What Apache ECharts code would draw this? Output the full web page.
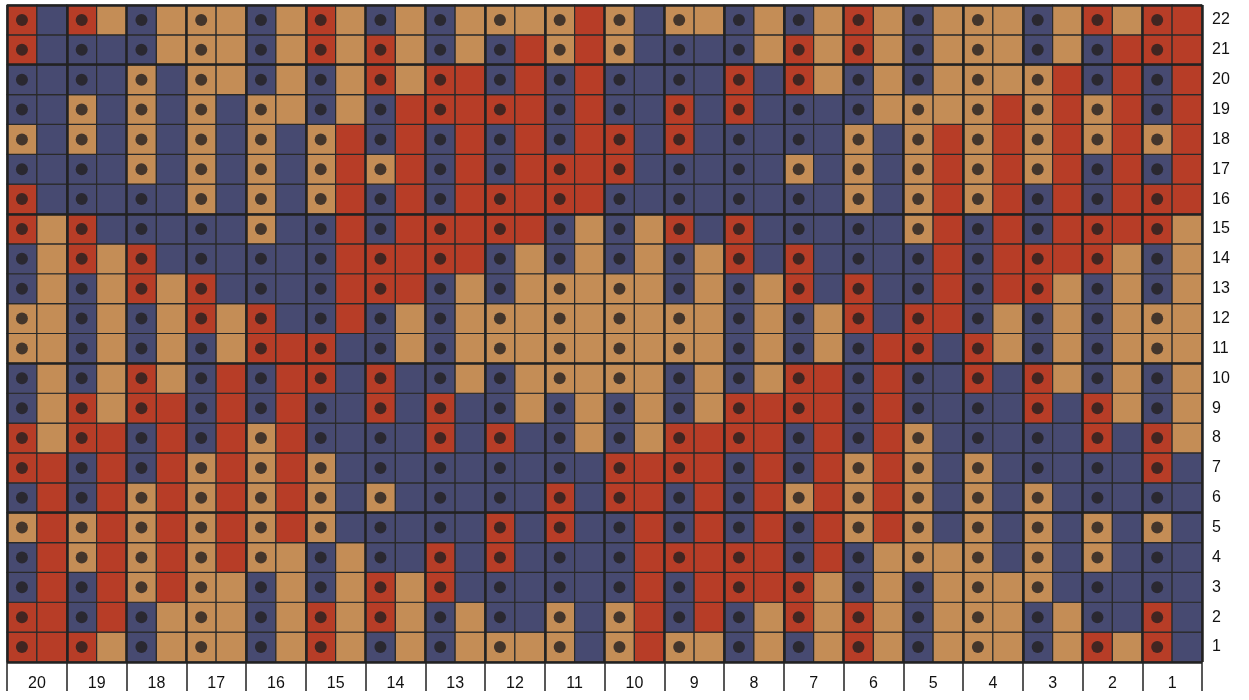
<!DOCTYPE html>
<html>
<head>
<meta charset="utf-8">
<script src="https://cdn.jsdelivr.net/npm/echarts@6/dist/echarts.min.js"></script>
<style>html,body{margin:0;padding:0;background:#fff}#c{width:1249px;height:700px}</style>
</head>
<body>
<div id="c"></div>
<script>
// Column labels (left to right) and row labels (bottom to top)
const columnLabels = ['20','19','18','17','16','15','14','13','12','11','10','9','8','7','6','5','4','3','2','1'];
const rowLabels = ['1','2','3','4','5','6','7','8','9','10','11','12','13','14','15','16','17','18','19','20','21','22'];

// Each entry: [dotted cell colour, plain cell colour] for columns 20 -> 1 (B blue, O orange, R red)
const row22 = ['RB','RO','BO','OO','BO','RO','BO','BO','OO','OR','OB','OO','BO','BO','RO','BO','OO','BO','RO','RR'];
const row21 = ['RB','BB','BO','OO','BO','RO','RO','BO','BR','OR','OB','BB','BO','RO','RO','BO','OO','BO','BR','RR'];
const row20 = ['BB','BB','OB','OO','BO','BO','RO','RR','BR','BR','BB','BB','RB','RO','BO','BO','OO','OR','BR','BR'];
const row19 = ['BB','OB','OB','OB','OO','BO','BR','RR','RR','BR','BB','RB','RB','BB','BO','OO','OR','OR','OR','BR'];
const row18 = ['OB','OB','OB','OB','OB','OR','BR','BR','BR','BR','RB','RB','BB','BB','OB','OR','OR','OR','OR','OR'];
const row17 = ['BB','BB','OB','OB','OB','OR','OR','BR','BR','RR','RB','BB','BB','OB','OB','OR','OR','OR','BR','BR'];
const row16 = ['RB','BB','BB','OB','OB','OR','BR','BR','RR','RR','BB','BB','BB','BB','OB','OR','OR','BR','BR','RR'];
const row15 = ['RO','RB','BB','BB','OB','BR','BR','RR','RR','BO','BO','RB','RB','BB','BB','OR','BR','BR','RR','RO'];
const row14 = ['BO','RO','RB','BB','BB','BR','RR','RR','BO','BO','BO','BO','RB','RB','BB','BR','BR','RR','RO','BO'];
const row13 = ['BO','BO','RO','RB','BB','BR','RR','BO','BO','OO','OO','BO','BO','RB','RB','BR','BR','RO','BO','BO'];
const row12 = ['OO','BO','BO','RO','RB','BR','BO','BO','OO','OO','OO','OO','BO','BO','RB','RR','BO','BO','BO','OO'];
const row11 = ['OO','BO','BO','BO','RR','RB','BO','BO','OO','OO','OO','OO','BO','BO','BR','RB','RO','BO','BO','OO'];
const row10 = ['BO','BO','RO','BR','BR','RB','RB','BO','BO','OO','OO','BO','BO','RR','BR','BB','RB','RO','BO','BO'];
const row9  = ['BO','RO','RR','BR','BR','BB','RB','RB','BO','BO','BO','BO','RR','RR','BR','BB','BB','RB','RO','BO'];
const row8  = ['RO','RR','BR','BR','OR','BB','BB','RB','RB','BO','BO','RR','RR','BR','BR','OB','BB','BB','RB','RO'];
const row7  = ['RR','BR','BR','OR','OR','OB','BB','BB','BB','BB','RR','RR','BR','BR','OR','OB','OB','BB','BB','RB'];
const row6  = ['BR','BR','OR','OR','OR','OB','OB','BB','BB','RB','RR','BR','BR','OR','OR','OB','OB','OB','BB','BB'];
const row5  = ['OR','OR','OR','OR','OR','OB','BB','BB','RB','RB','BR','BR','BR','BR','OR','OB','OB','OB','OB','OB'];
const row4  = ['BR','OR','OR','OR','OO','BO','BB','RB','RB','BB','BR','RR','RR','BR','BO','OO','OB','OB','OB','BB'];
const row3  = ['BR','BR','OR','OO','BO','BO','RO','RB','BB','BB','BR','BR','RR','RO','BO','BO','OO','OB','BB','BB'];
const row2  = ['RR','BR','BO','OO','BO','RO','RO','BO','BB','OB','OR','BR','BO','RO','RO','BO','OO','BO','BB','RB'];
const row1  = ['RR','RO','BO','OO','BO','RO','BO','BO','OO','OB','OR','OO','BO','BO','RO','BO','OO','BO','RO','RB'];

const rows = [row1,row2,row3,row4,row5,row6,row7,row8,row9,row10,row11,row12,row13,row14,row15,row16,row17,row18,row19,row20,row21,row22];
const palette = {B:'#474a71', O:'#c48d56', R:'#b73d27'};

const cells = [];
const dots = [];
rows.forEach((row, y) => {
  row.forEach((pair, c) => {
    cells.push([2*c, y, pair[0]]);
    cells.push([2*c+1, y, pair[1]]);
    dots.push([2*c+0.5, y+0.5]);
  });
});

const chart = echarts.init(document.getElementById('c'), null, {renderer:'canvas'});
chart.setOption({
  animation:false,
  backgroundColor:'#fff',
  grid:{left:7, top:5, width:1195, height:657, containLabel:false},
  xAxis:[
    {type:'value', min:0, max:40, interval:2, z:5,
     axisLine:{show:false}, axisTick:{show:false}, axisLabel:{show:false},
     splitLine:{show:true, lineStyle:{color:'#222', width:2.5}}},
    {type:'category', data:columnLabels, position:'bottom', boundaryGap:true,
     axisLine:{show:false},
     axisTick:{show:true, interval:0, length:29, lineStyle:{color:'#222', width:1.5}},
     axisLabel:{interval:0, margin:14, fontSize:16, color:'#111', fontFamily:'Liberation Sans'},
     splitLine:{show:false}}
  ],
  yAxis:[
    {type:'value', min:0, max:22, interval:5, z:5,
     axisLine:{show:false}, axisTick:{show:false}, axisLabel:{show:false},
     splitLine:{show:true, lineStyle:{color:'#222', width:2.5}}},
    {type:'category', data:rowLabels, position:'right', boundaryGap:true,
     axisLine:{show:false}, axisTick:{show:false},
     axisLabel:{interval:0, margin:10, fontSize:16, color:'#111', fontFamily:'Liberation Sans'},
     splitLine:{show:false}}
  ],
  series:[
    {type:'custom', xAxisIndex:0, yAxisIndex:0, z:2,
     data:cells,
     renderItem:function(params, api){
       const x = api.value(0), y = api.value(1);
       const p0 = api.coord([x, y+1]);
       const p1 = api.coord([x+1, y]);
       const key = cells[params.dataIndex][2];
       return {type:'rect',
         shape:{x:p0[0], y:p0[1], width:p1[0]-p0[0], height:p1[1]-p0[1]},
         style:{fill:palette[key], stroke:'#2a2a2a', lineWidth:1.2}};
     }},
    {type:'scatter', xAxisIndex:0, yAxisIndex:0, z:6,
     data:dots, symbol:'circle', symbolSize:12,
     itemStyle:{color:'#231f20'}, silent:true}
  ]
});
</script>
</body>
</html>
